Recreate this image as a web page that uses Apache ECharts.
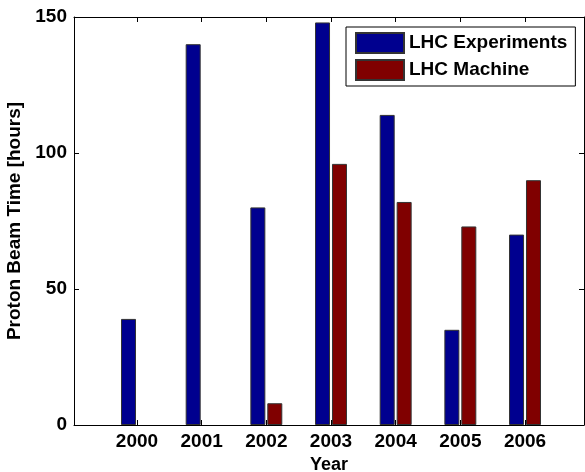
<!DOCTYPE html>
<html>
<head>
<meta charset="utf-8">
<script src="https://cdn.jsdelivr.net/npm/echarts@6/dist/echarts.min.js"></script>
<style>
  html, body { margin: 0; padding: 0; background: #fff; }
  #chart { width: 585px; height: 472px; }
</style>
</head>
<body>
<div id="chart"></div>
<script>
var years = [2000, 2001, 2002, 2003, 2004, 2005, 2006];
var experiments = [39, 140, 80, 148, 114, 35, 70];
var machine = [0, 0, 8, 96, 82, 73, 90];
var yTicks = [0, 50, 100, 150];

var font = "'Liberation Sans', Arial, sans-serif";
var myChart = echarts.init(document.getElementById("chart"));

// [year, value] pairs; zero-height bars get no outline (invisible like the original)
function pairs(vals) {
  return years.map(function (y, i) {
    var item = { value: [y, vals[i]] };
    if (vals[i] === 0) item.itemStyle = { borderWidth: 0 };
    return item;
  });
}

var xMin = 1999.026, xMax = 2006.912;

var option = {
  animation: false,
  textStyle: { fontFamily: font },
  grid: { left: 74, right: 1, top: 17, bottom: 47, outerBoundsMode: "none", containLabel: false },
  legend: {
    data: ["LHC Experiments", "LHC Machine"],
    orient: "vertical",
    left: 346,
    top: 27,
    padding: [5, 8, 5, 9],
    itemGap: 5,
    itemWidth: 48,
    itemHeight: 20,
    borderColor: "#000",
    borderWidth: 1,
    backgroundColor: "#fff",
    icon: "rect",
    textStyle: { fontFamily: font, fontSize: 19, fontWeight: "bold", color: "#000" }
  },
  xAxis: [
    {
      type: "value",
      min: xMin,
      max: xMax,
      name: "Year",
      nameLocation: "middle",
      nameGap: 30,
      nameTextStyle: { fontFamily: font, fontSize: 18, fontWeight: "bold", color: "#000" },
      axisLine: { onZero: false, lineStyle: { color: "#000", width: 1 } },
      axisTick: { inside: true, length: 5, customValues: years, lineStyle: { color: "#000" } },
      axisLabel: {
        customValues: years,
        margin: 7,
        formatter: function (v) { return String(v); },
        fontFamily: font, fontSize: 19, fontWeight: "bold", color: "#000"
      },
      splitLine: { show: false }
    },
    {
      type: "value",
      position: "top",
      min: xMin,
      max: xMax,
      axisLine: { onZero: false, lineStyle: { color: "#000", width: 1 } },
      axisTick: { inside: true, length: 5, customValues: years, lineStyle: { color: "#000" } },
      axisLabel: { show: false },
      splitLine: { show: false }
    }
  ],
  yAxis: [
    {
      type: "value",
      min: 0,
      max: 150,
      interval: 50,
      name: "Proton Beam Time [hours]",
      nameLocation: "middle",
      nameGap: 47,
      nameTextStyle: { fontFamily: font, fontSize: 19, fontWeight: "bold", color: "#000" },
      axisLine: { show: true, lineStyle: { color: "#000", width: 1 } },
      axisTick: { show: true, inside: true, length: 5, customValues: yTicks, lineStyle: { color: "#000" } },
      axisLabel: { customValues: yTicks, margin: 7, fontFamily: font, fontSize: 19, fontWeight: "bold", color: "#000" },
      splitLine: { show: false }
    },
    {
      type: "value",
      position: "right",
      min: 0,
      max: 150,
      interval: 50,
      axisLine: { show: true, lineStyle: { color: "#000", width: 1 } },
      axisTick: { show: true, inside: true, length: 5, lineStyle: { color: "#000" } },
      axisLabel: { show: false },
      splitLine: { show: false }
    }
  ],
  series: [
    {
      name: "LHC Experiments",
      type: "bar",
      data: pairs(experiments),
      barWidth: 15,
      barGap: "13%",
      itemStyle: { color: "#00008f", borderColor: "#333", borderWidth: 1 }
    },
    {
      name: "LHC Machine",
      type: "bar",
      data: pairs(machine),
      barWidth: 15,
      barGap: "13%",
      itemStyle: { color: "#800000", borderColor: "#333", borderWidth: 1 }
    }
  ]
};

myChart.setOption(option);
window.addEventListener("resize", function () { myChart.resize(); });
</script>
</body>
</html>
